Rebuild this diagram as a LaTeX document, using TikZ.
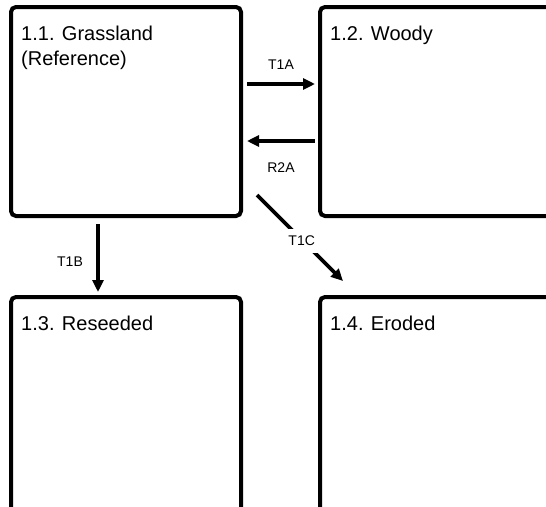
\documentclass[tikz,border=0pt]{standalone}
\usepackage{fontspec}
\setmainfont{Liberation Sans}
\usetikzlibrary{arrows.meta}

\begin{document}
\begin{tikzpicture}[x=1pt,y=-1pt,
  statebox/.style={draw=black, line width=4pt, rounded corners=5pt,
    rectangle, outer sep=0pt, inner sep=0pt},
  boxtitle/.style={anchor=north west, inner sep=0pt, align=left,
    font=\fontsize{20}{25}\selectfont},
  arr/.style={line width=3.6pt, -{Triangle[length=12pt,width=11pt]}},
  lbl/.style={inner sep=0pt, font=\fontsize{14}{16}\selectfont}
]
\useasboundingbox (0,0) rectangle (546,506);
\clip (0,0) rectangle (546,506);

% state boxes
\node[statebox, minimum width=230pt, minimum height=209pt] (b1) at (126,111.5) {};
\node[statebox, minimum width=250pt, minimum height=209pt] (b2) at (445,111.5) {};
\node[statebox, minimum width=230pt, minimum height=230pt] (b3) at (126,412) {};
\node[statebox, minimum width=250pt, minimum height=230pt] (b4) at (445,412) {};

% box titles
\node[boxtitle] (t1) at ([shift={(10,19)}]b1.north west) {1.1. Grassland\\(Reference)};
\node[boxtitle] (t2) at ([shift={(10,19)}]b2.north west) {1.2. Woody};
\node[boxtitle] (t3) at ([shift={(10,19)}]b3.north west) {1.3. Reseeded};
\node[boxtitle] (t4) at ([shift={(10,19)}]b4.north west) {1.4. Eroded};

% transitions
\draw[arr] ([shift={(6,77)}]b1.north east) -- ([shift={(-5,77)}]b2.north west)
  node[lbl, midway, yshift=19pt] (l1) {T1A};
\draw[arr] ([shift={(-5,134)}]b2.north west) -- ([shift={(6,134)}]b1.north east)
  node[lbl, midway, yshift=-27pt] (l2) {R2A};
\draw[arr] ([shift={(87,8)}]b1.south west) -- ([shift={(87,-5)}]b3.north west)
  node[lbl, midway, xshift=-28pt, yshift=-4pt] (l3) {T1B};
\draw[arr] ([shift={(16,-21)}]b1.south east) -- ([shift={(23,-16)}]b4.north west)
  node[lbl, pos=0.52, yshift=-1pt, fill=white, inner sep=7pt] (l4) {T1C};
\end{tikzpicture}
\end{document}
